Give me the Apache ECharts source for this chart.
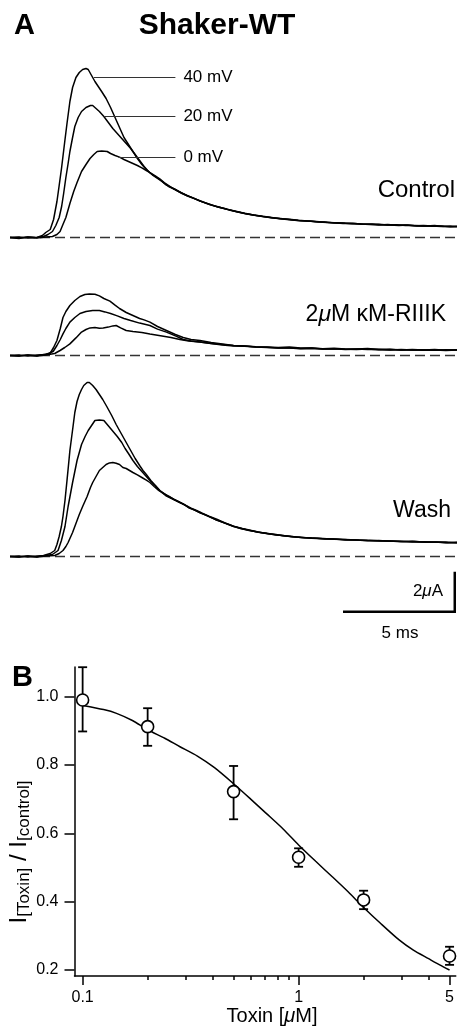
<!DOCTYPE html>
<html><head><meta charset="utf-8">
<script src="https://cdn.jsdelivr.net/npm/echarts@6/dist/echarts.min.js"></script>
<style>html,body{margin:0;padding:0;background:#fff}#c{width:457px;height:1026px}</style>
</head><body><div id="c"></div>
<script>
// ---------- Panel A: current traces [time ms, current uA] ----------
const ctrl40 = [[0,0],[0.4,-0.05],[0.8,0.02],[1.2,0],[1.45,0.1],[1.6,0.25],[1.8,0.4],[1.95,0.9],[2.1,1.8],[2.2,2.6],[2.31,3.5],[2.45,4.8],[2.55,5.7],[2.68,6.8],[2.8,7.5],[2.95,8.0],[3.1,8.25],[3.25,8.4],[3.4,8.45],[3.5,8.4],[3.65,8.1],[3.8,7.8],[3.95,7.55],[4.1,7.3],[4.3,6.95],[4.5,6.5],[4.7,6.0],[4.9,5.5],[5.1,5.0],[5.3,4.65],[5.5,4.3],[5.7,3.95],[5.9,3.65],[6.1,3.4],[6.3,3.2],[6.5,3.05],[6.7,2.9],[6.9,2.72],[7.1,2.55],[7.4,2.4],[7.7,2.2],[8.0,2.05],[8.3,1.92],[8.6,1.78],[9.0,1.62],[9.4,1.5],[9.8,1.38],[10.2,1.27],[10.6,1.18],[11.0,1.1],[11.4,1.04],[11.8,0.98],[12.2,0.92],[12.6,0.88],[13.0,0.84],[13.4,0.82],[13.8,0.78],[14.2,0.75],[14.6,0.74],[15.0,0.71],[15.4,0.7],[15.8,0.66],[16.2,0.67],[16.6,0.64],[17.0,0.63],[17.4,0.6],[17.8,0.62],[18.2,0.58],[18.6,0.57],[19.0,0.6],[19.4,0.55],[19.8,0.54],[20,0.55]];
const ctrl20 = [[0,0],[0.4,0.02],[0.8,-0.03],[1.2,0],[1.5,0.05],[1.7,0.15],[1.9,0.3],[2.05,0.6],[2.2,1.0],[2.31,1.55],[2.4,2.2],[2.5,3.0],[2.6,3.7],[2.68,4.3],[2.8,5.0],[2.9,5.55],[3.05,6.0],[3.2,6.3],[3.4,6.5],[3.6,6.6],[3.7,6.6],[3.85,6.45],[4.0,6.3],[4.2,6.05],[4.4,5.75],[4.6,5.45],[4.8,5.2],[5.0,4.95],[5.2,4.7],[5.4,4.45],[5.6,4.15],[5.8,3.85],[6.0,3.55],[6.2,3.3],[6.4,3.1],[6.6,2.95],[6.8,2.8],[7.0,2.62],[7.3,2.45],[7.6,2.28],[7.9,2.1],[8.2,1.98],[8.5,1.82],[8.9,1.68],[9.3,1.52],[9.7,1.42],[10.1,1.3],[10.5,1.2],[10.9,1.12],[11.3,1.05],[11.7,0.99],[12.1,0.95],[12.5,0.9],[12.9,0.85],[13.3,0.83],[13.7,0.79],[14.1,0.77],[14.5,0.73],[14.9,0.72],[15.3,0.69],[15.7,0.68],[16.1,0.65],[16.5,0.66],[16.9,0.62],[17.3,0.64],[17.7,0.6],[18.1,0.6],[18.5,0.58],[18.9,0.56],[19.3,0.58],[19.7,0.54],[20,0.56]];
const ctrl0 = [[0,0],[0.4,-0.02],[0.8,0.02],[1.2,-0.02],[1.6,0.02],[1.9,0.05],[2.1,0.15],[2.24,0.3],[2.35,0.6],[2.5,1.0],[2.68,1.7],[2.85,2.3],[3.0,2.75],[3.2,3.3],[3.4,3.65],[3.58,3.95],[3.75,4.15],[3.9,4.3],[4.1,4.32],[4.35,4.3],[4.5,4.2],[4.7,4.1],[4.9,4.02],[5.1,3.9],[5.3,3.8],[5.5,3.7],[5.7,3.6],[5.9,3.48],[6.1,3.35],[6.3,3.22],[6.5,3.08],[6.7,2.93],[6.9,2.75],[7.1,2.6],[7.3,2.45],[7.6,2.26],[7.9,2.12],[8.2,1.97],[8.5,1.84],[8.9,1.66],[9.3,1.54],[9.7,1.41],[10.1,1.31],[10.5,1.21],[10.9,1.13],[11.3,1.06],[11.7,1.0],[12.1,0.94],[12.5,0.91],[12.9,0.86],[13.3,0.82],[13.7,0.8],[14.1,0.76],[14.5,0.74],[14.9,0.7],[15.3,0.71],[15.7,0.67],[16.1,0.66],[16.5,0.63],[16.9,0.65],[17.3,0.61],[17.7,0.62],[18.1,0.59],[18.5,0.6],[18.9,0.57],[19.3,0.55],[19.7,0.57],[20,0.54]];

const tox40 = [[0,0],[0.4,-0.03],[0.8,0.02],[1.2,-0.02],[1.5,0.05],[1.79,0.1],[1.95,0.4],[2.1,0.75],[2.25,1.35],[2.37,1.9],[2.5,2.2],[2.68,2.5],[2.9,2.75],[3.13,2.95],[3.35,3.05],[3.55,3.08],[3.8,3.06],[4.0,2.98],[4.2,2.85],[4.47,2.72],[4.7,2.52],[4.9,2.35],[5.2,2.15],[5.5,2.0],[5.8,1.85],[6.0,1.78],[6.26,1.67],[6.6,1.45],[7.0,1.25],[7.4,1.05],[7.75,0.9],[8.1,0.8],[8.5,0.75],[9.0,0.65],[9.5,0.58],[10.0,0.5],[10.5,0.47],[11.0,0.44],[11.5,0.42],[12.0,0.4],[12.5,0.42],[13.0,0.37],[13.5,0.38],[14.0,0.34],[14.5,0.36],[15.0,0.33],[15.5,0.32],[16.0,0.35],[16.5,0.3],[17.0,0.31],[17.5,0.28],[18.0,0.3],[18.5,0.27],[19.0,0.3],[19.5,0.26],[20,0.29]];
const tox20 = [[0,0],[0.4,0.02],[0.8,-0.02],[1.2,0.02],[1.6,0.05],[1.93,0.2],[2.1,0.5],[2.25,0.8],[2.37,1.08],[2.5,1.35],[2.68,1.67],[2.9,1.9],[3.13,2.1],[3.4,2.2],[3.7,2.25],[4.0,2.25],[4.25,2.18],[4.5,2.1],[4.8,1.98],[5.1,1.85],[5.4,1.75],[5.8,1.62],[6.26,1.5],[6.6,1.32],[7.0,1.17],[7.4,0.98],[7.75,0.8],[8.1,0.72],[8.5,0.68],[9.0,0.6],[9.5,0.55],[10,0.5],[10.5,0.48],[11,0.43],[11.5,0.41],[12,0.38],[12.5,0.39],[13,0.35],[13.5,0.37],[14,0.33],[14.5,0.34],[15,0.3],[15.5,0.33],[16,0.3],[16.5,0.31],[17,0.28],[17.5,0.3],[18,0.27],[18.5,0.29],[19,0.26],[19.5,0.29],[20,0.27]];
const tox0 = [[0,0],[0.4,-0.02],[0.8,0.02],[1.2,-0.02],[1.6,0.02],[2.0,0.1],[2.24,0.25],[2.45,0.4],[2.68,0.58],[2.95,0.88],[3.2,1.17],[3.4,1.3],[3.58,1.38],[3.8,1.4],[4.0,1.36],[4.17,1.38],[4.4,1.42],[4.6,1.48],[4.75,1.5],[4.95,1.38],[5.2,1.25],[5.5,1.2],[5.9,1.15],[6.26,1.08],[6.8,0.98],[7.2,0.9],[7.6,0.8],[8.0,0.73],[8.5,0.67],[9.0,0.6],[9.5,0.53],[10,0.48],[10.5,0.46],[11,0.42],[11.5,0.4],[12,0.37],[12.5,0.38],[13,0.34],[13.5,0.35],[14,0.32],[14.5,0.34],[15,0.31],[15.5,0.3],[16,0.32],[16.5,0.29],[17,0.3],[17.5,0.27],[18,0.29],[18.5,0.26],[19,0.28],[19.5,0.25],[20,0.28]];

const wash40 = [[0,0],[0.4,-0.03],[0.8,0.02],[1.2,-0.02],[1.5,0.05],[1.8,0.15],[2.0,0.3],[2.1,0.6],[2.2,1.0],[2.3,1.5],[2.37,2.0],[2.46,2.8],[2.55,3.8],[2.62,4.6],[2.68,5.3],[2.75,5.9],[2.82,6.5],[2.9,7.2],[3.0,7.75],[3.1,8.1],[3.2,8.35],[3.3,8.55],[3.45,8.7],[3.55,8.7],[3.7,8.55],[3.85,8.35],[4.0,8.1],[4.15,7.85],[4.33,7.5],[4.55,7.05],[4.75,6.6],[5.0,6.1],[5.2,5.7],[5.4,5.3],[5.6,4.9],[5.8,4.55],[5.95,4.3],[6.1,4.1],[6.3,3.8],[6.5,3.55],[6.7,3.3],[6.9,3.15],[7.1,3.0],[7.35,2.85],[7.6,2.72],[7.8,2.58],[8.0,2.45],[8.25,2.32],[8.5,2.2],[8.85,2.02],[9.2,1.85],[9.6,1.67],[10.0,1.5],[10.35,1.4],[10.7,1.3],[11.1,1.22],[11.5,1.15],[11.9,1.1],[12.2,1.04],[12.6,1.0],[13.0,0.95],[13.5,0.92],[14.0,0.9],[14.5,0.86],[15.0,0.85],[15.5,0.82],[16.0,0.8],[16.5,0.79],[17.0,0.78],[17.5,0.74],[18.0,0.76],[18.5,0.72],[19.0,0.73],[19.5,0.69],[20,0.7]];
const wash20 = [[0,0],[0.4,0.02],[0.8,-0.02],[1.2,0.02],[1.6,0.05],[1.9,0.1],[2.15,0.3],[2.3,0.8],[2.46,1.5],[2.6,2.5],[2.7,3.1],[2.8,3.7],[2.9,4.25],[3.0,4.8],[3.1,5.2],[3.2,5.6],[3.36,6.0],[3.5,6.3],[3.65,6.55],[3.8,6.8],[4.0,6.82],[4.2,6.8],[4.35,6.6],[4.5,6.4],[4.65,6.2],[4.8,6.0],[5.0,5.7],[5.15,5.4],[5.3,5.15],[5.5,4.8],[5.7,4.5],[5.9,4.25],[6.1,4.0],[6.26,3.8],[6.5,3.55],[6.7,3.3],[6.9,3.13],[7.1,3.02],[7.35,2.84],[7.6,2.7],[7.8,2.6],[8.0,2.44],[8.25,2.33],[8.5,2.18],[8.85,2.03],[9.2,1.84],[9.6,1.68],[10,1.51],[10.35,1.39],[10.7,1.31],[11.1,1.21],[11.5,1.16],[11.9,1.08],[12.2,1.05],[12.6,0.99],[13,0.96],[13.5,0.91],[14,0.89],[14.5,0.87],[15,0.83],[15.5,0.83],[16,0.79],[16.5,0.8],[17,0.76],[17.5,0.76],[18,0.73],[18.5,0.74],[19,0.71],[19.5,0.72],[20,0.68]];
const wash0 = [[0,0],[0.4,-0.02],[0.8,0.02],[1.2,-0.02],[1.6,0.02],[2.0,0.05],[2.2,0.15],[2.37,0.3],[2.5,0.5],[2.6,0.7],[2.7,0.95],[2.8,1.2],[2.95,1.65],[3.1,2.1],[3.25,2.5],[3.45,3.0],[3.6,3.45],[3.7,3.7],[3.85,4.0],[4.0,4.3],[4.15,4.45],[4.3,4.6],[4.45,4.68],[4.6,4.7],[4.75,4.66],[4.9,4.6],[5.05,4.45],[5.2,4.4],[5.35,4.3],[5.5,4.2],[5.7,4.08],[5.9,3.95],[6.1,3.82],[6.26,3.7],[6.45,3.5],[6.65,3.3],[6.85,3.15],[7.0,3.02],[7.3,2.86],[7.6,2.7],[7.85,2.57],[8.1,2.42],[8.35,2.3],[8.6,2.17],[8.9,2.02],[9.25,1.86],[9.6,1.69],[10,1.52],[10.4,1.4],[10.8,1.3],[11.2,1.2],[11.6,1.13],[12,1.08],[12.4,1.03],[12.8,0.98],[13.2,0.94],[13.6,0.93],[14.1,0.88],[14.6,0.87],[15.1,0.84],[15.6,0.82],[16.1,0.81],[16.6,0.77],[17.1,0.78],[17.6,0.75],[18.1,0.75],[18.6,0.71],[19.1,0.73],[19.6,0.69],[20,0.71]];

const timeSpan = [0, 20];               // ms shown on the trace panels
const voltageLabels = ['40 mV', '20 mV', '0 mV'];
const leaderLevels = [8.0, 6.05, 4.0];  // uA
const leaderStarts = [3.75, 4.2, 4.85]; // ms
const leaderEnd = 7.4;                  // ms
const scaleBarStart = [14.9, -2.76];    // [ms, uA]
const scaleBarSize = [5, 2];            // 5 ms, 2 uA

// ---------- Panel B: dose response ----------
const toxinConc = [0.1, 0.2, 0.5, 1, 2, 5];
const ratioMean = [0.99, 0.912, 0.722, 0.530, 0.405, 0.241];
const ratioLow  = [0.898, 0.856, 0.641, 0.502, 0.378, 0.215];
const ratioHigh = [1.086, 0.966, 0.797, 0.556, 0.432, 0.268];
const fitConc  = [0.1, 0.125, 0.1435, 0.17, 0.2, 0.24, 0.281, 0.34, 0.408, 0.5, 0.6, 0.706, 0.85, 1, 1.2, 1.436, 1.7, 2, 2.4, 2.92, 3.4, 4.0, 4.5, 5];
const fitRatio = [0.974, 0.962, 0.951, 0.93, 0.903, 0.878, 0.854, 0.826, 0.792, 0.745, 0.70, 0.659, 0.612, 0.566, 0.518, 0.472, 0.428, 0.383, 0.336, 0.288, 0.258, 0.233, 0.215, 0.2];
const yTickValues = [0.2, 0.4, 0.6, 0.8, 1.0];
const xLabelValues = [0.1, 1, 5];
const xMajorTicks = [0.1, 1, 5];
const xMinorTicks = [0.2, 0.3, 0.4, 0.5, 0.6, 0.7, 0.8, 0.9, 2, 3, 4];

const FONT = '"Liberation Sans", Arial, Helvetica, sans-serif';
const chart = echarts.init(document.getElementById('c'), null, {renderer: 'canvas'});

function trace(data, g) {
  return {type: 'line', xAxisIndex: g, yAxisIndex: g, data: data, showSymbol: false, symbol: 'none',
    lineStyle: {color: '#000', width: 1.5}, silent: true, z: 3, animation: false};
}
function baseline(g) {
  return {type: 'line', xAxisIndex: g, yAxisIndex: g, data: [[timeSpan[0], 0], [timeSpan[1], 0]],
    showSymbol: false, symbol: 'none', lineStyle: {color: '#333', width: 1.4, type: [10, 5]}, z: 2, silent: true, animation: false};
}
const series = [];
[[ctrl40, ctrl20, ctrl0], [tox40, tox20, tox0], [wash40, wash20, wash0]].forEach((grp, g) => {
  series.push(baseline(g));
  grp.forEach(d => series.push(trace(d, g)));
});
leaderLevels.forEach((lv, i) => {
  series.push({type: 'line', xAxisIndex: 0, yAxisIndex: 0, data: [[leaderStarts[i], lv], [leaderEnd, lv]],
    showSymbol: false, symbol: 'none', lineStyle: {color: '#333', width: 1.2}, silent: true, animation: false,
    endLabel: {show: true, formatter: () => voltageLabels[i], distance: 8, fontSize: 17, fontFamily: FONT, color: '#000'}});
});
series.push({type: 'line', xAxisIndex: 2, yAxisIndex: 2, showSymbol: false, symbol: 'none', silent: true, animation: false,
  data: [[scaleBarStart[0], scaleBarStart[1]], [scaleBarStart[0] + scaleBarSize[0], scaleBarStart[1]],
         [scaleBarStart[0] + scaleBarSize[0], scaleBarStart[1] + scaleBarSize[1]]],
  lineStyle: {color: '#000', width: 2.5, join: 'miter'}});

// Panel B series
series.push({type: 'line', xAxisIndex: 3, yAxisIndex: 3, data: fitConc.map((c, i) => [c, fitRatio[i]]),
  smooth: 0.25, showSymbol: false, symbol: 'none', lineStyle: {color: '#000', width: 1.5}, silent: true, animation: false, z: 2});
series.push({type: 'custom', xAxisIndex: 3, yAxisIndex: 3, silent: true, animation: false, z: 3,
  data: toxinConc.map((c, i) => [c, ratioLow[i], ratioHigh[i]]),
  encode: {x: 0, y: [1, 2]},
  renderItem: function (params, api) {
    const lo = api.coord([api.value(0), api.value(1)]);
    const hi = api.coord([api.value(0), api.value(2)]);
    const w = 4.5;
    const st = {stroke: '#000', lineWidth: 1.8};
    return {type: 'group', children: [
      {type: 'line', shape: {x1: lo[0], y1: lo[1], x2: hi[0], y2: hi[1]}, style: st},
      {type: 'line', shape: {x1: lo[0] - w, y1: lo[1], x2: lo[0] + w, y2: lo[1]}, style: st},
      {type: 'line', shape: {x1: hi[0] - w, y1: hi[1], x2: hi[0] + w, y2: hi[1]}, style: st}
    ]};
  }});
series.push({type: 'scatter', xAxisIndex: 3, yAxisIndex: 3, data: toxinConc.map((c, i) => [c, ratioMean[i]]),
  symbol: 'circle', symbolSize: 12, itemStyle: {color: '#fff', borderColor: '#000', borderWidth: 1.6, opacity: 1},
  z: 4, silent: true, animation: false});

const hiddenX = g => ({type: 'value', gridIndex: g, min: timeSpan[0], max: timeSpan[1], show: false});
const axisLineStyle = {color: '#000', width: 1.5};

const option = {
  backgroundColor: '#fff',
  animation: false,
  grid: [
    {left: 10, right: 0, top: 47.5, height: 200},
    {left: 10, right: 0, top: 275.5, height: 90},
    {left: 10, right: 0, top: 366.5, height: 260},
    {left: 74.5, right: 0, top: 667, height: 309}
  ],
  xAxis: [
    hiddenX(0), hiddenX(1), hiddenX(2),
    {type: 'log', gridIndex: 3, position: 'bottom', min: 0.0917, max: 5.34, logBase: 10,
      axisLine: {show: true, onZero: false, lineStyle: axisLineStyle},
      axisTick: {show: true, length: 9, customValues: xMajorTicks, lineStyle: axisLineStyle},
      axisLabel: {show: true, customValues: xLabelValues, formatter: v => String(+(+v).toPrecision(3)), margin: 14,
        fontSize: 16, fontFamily: FONT, color: '#000'},
      splitLine: {show: false}, minorTick: {show: false}},
    {type: 'log', gridIndex: 3, position: 'bottom', min: 0.0917, max: 5.34, logBase: 10,
      axisLine: {show: false, onZero: false},
      axisTick: {show: true, length: 4, customValues: xMinorTicks, lineStyle: axisLineStyle},
      axisLabel: {show: false}, splitLine: {show: false}}
  ],
  yAxis: [
    {type: 'value', gridIndex: 0, min: -0.5, max: 9.5, show: false},
    {type: 'value', gridIndex: 1, min: -0.5, max: 4, show: false},
    {type: 'value', gridIndex: 2, min: -3.5, max: 9.5, show: false},
    {type: 'value', gridIndex: 3, min: 0.1824, max: 1.0866,
      axisLine: {show: true, onZero: false, lineStyle: axisLineStyle},
      axisTick: {show: true, length: 10, customValues: yTickValues, lineStyle: axisLineStyle},
      axisLabel: {show: true, customValues: yTickValues, formatter: v => (+v).toFixed(1), margin: 16,
        fontSize: 16, fontFamily: FONT, color: '#000'},
      splitLine: {show: false}}
  ],
  series: series,
  graphic: [
    {type: 'text', x: 14, y: 26, style: {text: 'A', font: 'bold 29px ' + FONT, fill: '#000', align: 'left', verticalAlign: 'middle', textAlign: 'left', textVerticalAlign: 'middle'}},
    {type: 'text', x: 217, y: 26, style: {text: 'Shaker-WT', font: 'bold 30px ' + FONT, fill: '#000', align: 'center', verticalAlign: 'middle', textAlign: 'center', textVerticalAlign: 'middle'}},
    {type: 'text', x: 455, y: 190, style: {text: 'Control', font: '24px ' + FONT, fill: '#000', align: 'right', verticalAlign: 'middle', textAlign: 'right', textVerticalAlign: 'middle'}},
    {type: 'text', x: 446, y: 315, style: {text: '{n|2}{m|μ}{n|M κM-RIIIK}', font: '23px ' + FONT, fill: '#000', align: 'right', verticalAlign: 'middle', textAlign: 'right', textVerticalAlign: 'middle',
      rich: {n: {fontSize: 23, fontFamily: FONT, fill: '#000'}, m: {fontSize: 23, fontFamily: FONT, fontStyle: 'italic', fill: '#000'}}}},
    {type: 'text', x: 451, y: 511, style: {text: 'Wash', font: '23px ' + FONT, fill: '#000', align: 'right', verticalAlign: 'middle', textAlign: 'right', textVerticalAlign: 'middle'}},
    {type: 'text', x: 443, y: 591, style: {text: '{n|2}{m|μ}{n|A}', font: '17px ' + FONT, fill: '#000', align: 'right', verticalAlign: 'middle', textAlign: 'right', textVerticalAlign: 'middle',
      rich: {n: {fontSize: 17, fontFamily: FONT, fill: '#000'}, m: {fontSize: 17, fontFamily: FONT, fontStyle: 'italic', fill: '#000'}}}},
    {type: 'text', x: 400, y: 633, style: {text: '5 ms', font: '17px ' + FONT, fill: '#000', align: 'center', verticalAlign: 'middle', textAlign: 'center', textVerticalAlign: 'middle'}},
    {type: 'text', x: 12, y: 678, style: {text: 'B', font: 'bold 29px ' + FONT, fill: '#000', align: 'left', verticalAlign: 'middle', textAlign: 'left', textVerticalAlign: 'middle'}},
    {type: 'text', x: 19, y: 852, rotation: Math.PI / 2, style: {text: '{i|I}{s|[Toxin]}{i| / I}{s|[control]}', font: '24px ' + FONT, fill: '#000',
      align: 'center', verticalAlign: 'middle', textAlign: 'center', textVerticalAlign: 'middle',
      rich: {i: {fontSize: 24, lineHeight: 28, fontFamily: FONT, fill: '#000'}, s: {fontSize: 17, lineHeight: 17, verticalAlign: 'bottom', fontFamily: FONT, fill: '#000'}}}},
    {type: 'text', x: 272, y: 1016, style: {text: '{n|Toxin [}{m|μ}{n|M]}', font: '20px ' + FONT, fill: '#000', align: 'center', verticalAlign: 'middle', textAlign: 'center', textVerticalAlign: 'middle',
      rich: {n: {fontSize: 20, fontFamily: FONT, fill: '#000'}, m: {fontSize: 20, fontFamily: FONT, fontStyle: 'italic', fill: '#000'}}}}
  ]
};
chart.setOption(option);
</script></body></html>
